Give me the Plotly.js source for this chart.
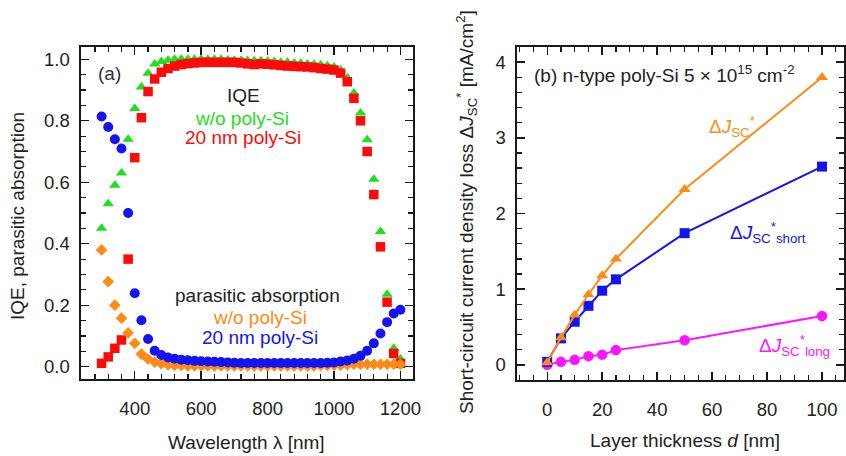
<!DOCTYPE html>
<html>
<head>
<meta charset="utf-8">
<script src="https://cdn.plot.ly/plotly-3.0.1.min.js"></script>
<style>html,body{margin:0;padding:0;background:#fff;}#chart{width:846px;height:456px;}</style>
</head>
<body>
<div id="chart"></div>
<script>
// ---------- Panel (a): wavelength data ----------
const wavelength = [300,320,340,360,380,400,420,440,460,480,500,520,540,560,580,600,620,640,660,680,700,720,740,760,780,800,820,840,860,880,900,920,940,960,980,1000,1020,1040,1060,1080,1100,1120,1140,1160,1180,1200];
const iqeNoPoly = [0.45,0.53,0.59,0.63,0.74,0.84,0.91,0.955,0.985,0.993,0.997,1.0,1.0,1.0,1.0,1.0,1.0,1.0,1.0,0.998,0.997,0.997,0.996,0.995,0.995,0.994,0.993,0.99,0.99,0.988,0.987,0.985,0.984,0.982,0.979,0.975,0.965,0.94,0.89,0.825,0.738,0.61,0.44,0.236,0.06,0.025];
const iqePoly20 = [0.011,0.032,0.06,0.087,0.35,0.68,0.81,0.895,0.936,0.958,0.97,0.978,0.983,0.986,0.988,0.99,0.99,0.99,0.99,0.99,0.99,0.988,0.985,0.983,0.985,0.984,0.982,0.98,0.978,0.977,0.976,0.975,0.973,0.97,0.968,0.965,0.955,0.927,0.873,0.80,0.70,0.56,0.39,0.21,0.043,0.011];
const parNoPoly = [0.38,0.277,0.20,0.158,0.11,0.076,0.041,0.025,0.015,0.01,0.007,0.005,0.004,0.003,0.003,0.003,0.003,0.003,0.003,0.003,0.003,0.003,0.003,0.003,0.003,0.003,0.003,0.003,0.003,0.003,0.003,0.003,0.003,0.004,0.004,0.005,0.005,0.007,0.008,0.008,0.008,0.008,0.008,0.008,0.008,0.008];
const parPoly20 = [0.814,0.78,0.74,0.71,0.50,0.239,0.151,0.09,0.052,0.038,0.03,0.026,0.023,0.021,0.019,0.018,0.017,0.016,0.015,0.014,0.013,0.012,0.012,0.012,0.012,0.012,0.012,0.012,0.012,0.012,0.012,0.012,0.012,0.012,0.013,0.014,0.017,0.02,0.026,0.036,0.052,0.076,0.108,0.145,0.173,0.185];

// ---------- Panel (b): thickness data ----------
const thickness = [0,5,10,15,20,25,50,100];
const dJsc = [0.03,0.36,0.66,0.93,1.18,1.40,2.32,3.80];
const dJscShort = [0.04,0.35,0.57,0.78,0.98,1.13,1.74,2.62];
const dJscLong = [0.0,0.04,0.066,0.115,0.135,0.195,0.325,0.645];

const xTicksA = [400,600,800,1000,1200];
const yTicksA = [0,0.2,0.4,0.6,0.8,1.0];
const xTicksB = [0,20,40,60,80,100];
const yTicksB = [0,1,2,3,4];

const GREEN='#1EE01E', RED='#FF0A0A', ORANGE='#FF8A14', BLUE='#1414F0', MAGENTA='#FF14FF';
const FONT='Arial, "Liberation Sans", sans-serif';
const W=846, H=456;
const px = x => x/W, py = y => 1 - y/H;

const traces = [
  {x:wavelength, y:iqeNoPoly, type:'scatter', mode:'markers', xaxis:'x', yaxis:'y', marker:{symbol:'triangle-up', size:10, color:GREEN}},
  {x:wavelength, y:iqePoly20, type:'scatter', mode:'markers', xaxis:'x', yaxis:'y', marker:{symbol:'square', size:9.5, color:RED}},
  {x:wavelength, y:parNoPoly, type:'scatter', mode:'markers', xaxis:'x', yaxis:'y', marker:{symbol:'diamond', size:9, color:ORANGE}},
  {x:wavelength, y:parPoly20, type:'scatter', mode:'markers', xaxis:'x', yaxis:'y', marker:{symbol:'circle', size:10, color:BLUE}},
  {x:thickness, y:dJscLong, type:'scatter', mode:'lines+markers', xaxis:'x2', yaxis:'y2', line:{color:MAGENTA, width:2}, marker:{symbol:'circle', size:10.5, color:MAGENTA}},
  {x:thickness, y:dJscShort, type:'scatter', mode:'lines+markers', xaxis:'x2', yaxis:'y2', line:{color:BLUE, width:2}, marker:{symbol:'square', size:10, color:BLUE}},
  {x:thickness, y:dJsc, type:'scatter', mode:'lines+markers', xaxis:'x2', yaxis:'y2', line:{color:ORANGE, width:2}, marker:{symbol:'triangle-up', size:10.5, color:ORANGE}}
];

function axisBase(){
  return {showline:true, linecolor:'#1a1a1a', linewidth:1.6, mirror:'allticks', ticks:'inside', ticklen:8, tickwidth:1.4, tickcolor:'#1a1a1a',
          showgrid:false, zeroline:false, tickfont:{family:FONT, size:18.5, color:'#222'}, fixedrange:true};
}

const xa = Object.assign(axisBase(), {domain:[px(81),px(413)], range:[238,1238], tickvals:xTicksA, ticktext:xTicksA.map(String), anchor:'y',
  minor:{dtick:40, tick0:0, ticks:'inside', ticklen:5, tickwidth:1.2, tickcolor:'#1a1a1a'}, ticklabelstandoff:12});
const ya = Object.assign(axisBase(), {domain:[py(379),py(47)], range:[-0.04,1.04], tickvals:yTicksA, ticktext:yTicksA.map(v=>v.toFixed(1)), anchor:'x',
  minor:{dtick:0.05, tick0:0, ticks:'inside', ticklen:5, tickwidth:1.2, tickcolor:'#1a1a1a'}, ticklabelstandoff:6});
const xb = Object.assign(axisBase(), {domain:[px(517),px(844)], range:[-11,108], tickvals:xTicksB, ticktext:xTicksB.map(String), anchor:'y2',
  minor:{dtick:5, tick0:0, ticks:'inside', ticklen:5, tickwidth:1.2, tickcolor:'#1a1a1a'}, ticklabelstandoff:12});
const yb = Object.assign(axisBase(), {domain:[py(380),py(47)], range:[-0.2,4.2], tickvals:yTicksB, ticktext:yTicksB.map(String), anchor:'x2',
  minor:{dtick:0.2, tick0:0, ticks:'inside', ticklen:5, tickwidth:1.2, tickcolor:'#1a1a1a'}, ticklabelstandoff:6});

function ann(text, x, y, color, opts){
  return Object.assign({text:text, x:px(x), y:py(y), xref:'paper', yref:'paper', showarrow:false, xanchor:'center', yanchor:'middle',
    font:{family:FONT, size:19, color:color}}, opts||{});
}

const annotations = [
  ann('(a)', 109, 73, '#2c323a'),
  ann('IQE', 243, 95, '#222'),
  ann('w/o poly-Si', 242, 118, GREEN),
  ann('20 nm poly-Si', 243, 138, RED),
  ann('parasitic absorption', 257, 295, '#222'),
  ann('w/o poly-Si', 260, 317, ORANGE),
  ann('20 nm poly-Si', 260, 337, BLUE),
  ann('IQE, parasitic absorption', 18, 216, '#222', {textangle:-90}),
  ann('Wavelength λ [nm]', 247, 442, '#222'),
  ann('(b) n-type poly-Si 5 × 10<sup>15</sup> cm<sup>-2</sup>', 532, 74, '#222', {xanchor:'left'}),
  ann('Δ<i>J</i><sub>SC</sub><sup>*</sup>', 707, 127, ORANGE, {xanchor:'left'}),
  ann('Δ<i>J</i><sub>SC</sub><sup>*</sup><sub>short</sub>', 728, 232, BLUE, {xanchor:'left'}),
  ann('Δ<i>J</i><sub>SC</sub><sup>*</sup><sub>long</sub>', 757, 345, MAGENTA, {xanchor:'left'}),
  ann('Short-circuit current density loss Δ<i>J</i><sub>SC</sub><sup>*</sup> [mA/cm<sup>2</sup>]', 466, 212, '#222', {textangle:-90}),
  ann('Layer thickness <i>d</i> [nm]', 685, 440, '#222')
];

const layout = {
  width:W, height:H, margin:{l:0,r:0,t:0,b:0}, paper_bgcolor:'#fff', plot_bgcolor:'rgba(0,0,0,0)',
  showlegend:false, font:{family:FONT, size:18, color:'#222'},
  xaxis:xa, yaxis:ya, xaxis2:xb, yaxis2:yb, annotations:annotations
};

Plotly.newPlot('chart', traces, layout, {staticPlot:true, displayModeBar:false});
</script>
</body>
</html>
